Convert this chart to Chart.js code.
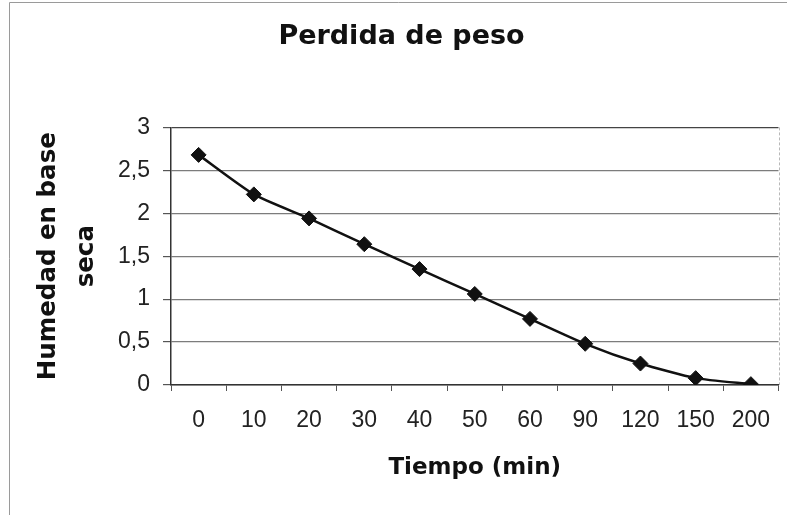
<!DOCTYPE html>
<html><head><meta charset="utf-8">
<script src="https://cdn.jsdelivr.net/npm/chart.js@4"></script>
<style>html,body{margin:0;padding:0;background:#fff}</style>
</head><body>
<canvas id="c" width="787" height="515"></canvas>
<script>
const categories = ['0','10','20','30','40','50','60','90','120','150','200'];
const humedad = [2.68, 2.22, 1.94, 1.64, 1.35, 1.06, 0.77, 0.48, 0.25, 0.08, 0.01];
const yMin = 0, yMax = 3, yStep = 0.5;
const chartTitle = 'Perdida de peso';
const xTitle = 'Tiempo (min)';
const yTitle = ['Humedad en base', 'seca'];

const frame = {
  id: 'frame',
  beforeDraw(chart) {
    const c = chart.ctx;
    c.save();
    c.fillStyle = '#fff';
    c.fillRect(0, 0, chart.width, chart.height);
    c.strokeStyle = '#9a9a9a';
    c.lineWidth = 1;
    c.beginPath();
    c.moveTo(9.5, 515);
    c.lineTo(9.5, 2.5);
    c.lineTo(787, 2.5);
    c.stroke();
    c.restore();
  },
  beforeDatasetsDraw(chart) {
    const a = chart.chartArea, c = chart.ctx;
    c.save();
    c.strokeStyle = '#b8b8b8';
    c.lineWidth = 1;
    c.setLineDash([3, 2]);
    c.beginPath();
    c.moveTo(Math.round(a.right) + 0.5, a.top);
    c.lineTo(Math.round(a.right) + 0.5, a.bottom);
    c.stroke();
    c.restore();
  }
};

new Chart(document.getElementById('c'), {
  type: 'line',
  data: {
    labels: categories,
    datasets: [{
      data: humedad,
      borderColor: '#111',
      borderWidth: 2.5,
      tension: 0.2,
      pointStyle: 'rectRot',
      pointRadius: 7.5,
      pointBackgroundColor: '#111',
      pointBorderColor: '#111',
      pointBorderWidth: 1
    }]
  },
  options: {
    responsive: false,
    devicePixelRatio: 1,
    animation: false,
    layout: { padding: { left: 22, right: 6, top: 10, bottom: 0 } },
    plugins: {
      legend: { display: false },
      tooltip: { enabled: false },
      title: {
        display: true,
        text: chartTitle,
        color: '#111',
        font: { family: 'DejaVu Sans', size: 27, weight: 'bold', lineHeight: 1.2 },
        padding: { top: 11, bottom: 74 }
      }
    },
    scales: {
      x: {
        type: 'category',
        offset: true,
        afterFit(s) { s.height = 130; },
        grid: { display: true, drawOnChartArea: false, drawTicks: true, tickLength: 6, offset: true, tickColor: '#555' },
        border: { display: true, color: '#333', width: 1.5 },
        ticks: { color: '#222', padding: 16, maxRotation: 0, autoSkip: false,
          font: { family: 'Liberation Sans', size: 23, lineHeight: 1.2 } },
        title: {
          display: true, text: xTitle, color: '#111',
          font: { family: 'DejaVu Sans', size: 23, weight: 'bold', lineHeight: 1.2 },
          padding: { top: 0, bottom: 33 }
        }
      },
      y: {
        min: yMin, max: yMax,
        afterFit(s) { s.width = 149; },
        grid: {
          color: (ctx) => (ctx.tick && ctx.tick.value === yMax) ? '#444' : '#7c7c7c',
          lineWidth: 1.2,
          drawTicks: true, tickLength: 8, tickColor: '#555'
        },
        border: { display: true, color: '#333', width: 1.5 },
        ticks: {
          stepSize: yStep, color: '#222', padding: 13,
          font: { family: 'Liberation Sans', size: 23, lineHeight: 1.2 },
          callback: (v) => String(v).replace('.', ',')
        },
        title: {
          display: true, text: yTitle, color: '#111',
          font: { family: 'DejaVu Sans', size: 24.5, weight: 'bold', lineHeight: '38px' },
          padding: { top: 8, bottom: 0 }
        }
      }
    }
  },
  plugins: [frame]
});
</script>
</body></html>
